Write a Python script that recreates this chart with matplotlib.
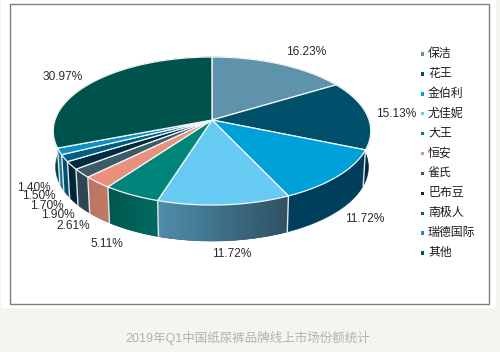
import numpy as np
import matplotlib
matplotlib.use('Agg')
import matplotlib.pyplot as plt
from matplotlib.patches import FancyBboxPatch, Polygon, Rectangle
from matplotlib.colors import LinearSegmentedColormap

plt.rcParams['font.family'] = ['Liberation Sans', 'Noto Sans CJK SC']

# data
brands = ['保洁', '花王', '金伯利', '尤佳妮', '大王', '恒安', '雀氏', '巴布豆', '南极人', '瑞德国际', '其他']
shares = [16.23, 15.13, 11.72, 11.72, 5.11, 2.61, 1.90, 1.70, 1.50, 1.40, 30.97]
caption = '2019年Q1中国纸尿裤品牌线上市场份额统计'

# styles
top_colors = ['#5f92ab', '#004f6b', '#00a1da', '#67caf3', '#00857a', '#e9917c',
              '#3d5a68', '#002c3f', '#005e80', '#0f8fc4', '#00534d']
# colour of each side wall at its right and left end
side_right = ['#4a7488', '#002a3a', '#003f5c', '#2f5163', '#006a5f', '#c07a66',
              '#2e4553', '#00263a', '#005070', '#1076a5', '#004a44']
side_left = ['#4a7488', '#002a3a', '#003f5c', '#4f8dab', '#00574f', '#bb7562',
             '#2e4553', '#00263a', '#005070', '#1076a5', '#004a44']
label_pos = [(306, 52), (396, 114), (365, 219), (232, 254), (107, 244), (73.5, 226),
             (57.5, 215), (46.5, 206), (38.5, 196), (33.5, 188), (63, 77)]

# pie geometry in pixels, the tilted disc is a perspective view of a circle
cx, cy = 212, 120
rx, ry = 157, 72.4
persp = 0.1486
depth = 36
bottom_shrink = 0.985


def rim(frac, bottom=False):
    ang = 2 * np.pi * np.asarray(frac) / 100
    x, y = np.sin(ang), -np.cos(ang)
    den = 1 - persp * y
    if bottom:
        return cx + bottom_shrink * rx * x / den, cy + depth + ry * y / den
    return cx + rx * x / den, cy + ry * y / den


fig = plt.figure(figsize=(5, 3.52), dpi=100, facecolor='#f4f5ee')
ax = fig.add_axes([0, 0, 1, 1])

ax.add_patch(FancyBboxPatch((4, -10), 489, 315, boxstyle='round,pad=3,rounding_size=3',
                            fc='white', ec='none', zorder=0))
ax.add_patch(Rectangle((9.5, 3.5), 479, 300, fc='none', ec='#808080', lw=1.0, zorder=1))

edges = np.concatenate([[0], np.cumsum(shares)])
grad = np.linspace(0, 1, 64).reshape(1, -1)

# side wall
for i in range(len(shares)):
    tt = np.linspace(edges[i], edges[i + 1], 60)
    xt, yt = rim(tt)
    xb, yb = rim(tt, True)
    pts = np.column_stack([np.r_[xt, xb[::-1]], np.r_[yt, yb[::-1]]])
    poly = Polygon(pts, fc=side_right[i], ec=side_right[i], lw=0.4, zorder=2)
    ax.add_patch(poly)
    if side_left[i] != side_right[i]:
        cmap = LinearSegmentedColormap.from_list('side', [side_left[i], side_right[i]])
        im = ax.imshow(grad, cmap=cmap, aspect='auto', zorder=2.1, interpolation='bilinear',
                       extent=(pts[:, 0].min(), pts[:, 0].max(), pts[:, 1].max(), pts[:, 1].min()))
        im.set_clip_path(poly)

for e in edges[:-1]:
    xt, yt = rim(e)
    xb, yb = rim(e, True)
    if 25 < e < 75:
        ax.plot([xt, xb], [yt, yb], color='#e4e8ea', lw=1.0, zorder=3)

# top face
for i in range(len(shares)):
    tt = np.linspace(edges[i], edges[i + 1], 80)
    xt, yt = rim(tt)
    pts = np.column_stack([np.r_[cx, xt], np.r_[cy, yt]])
    ax.add_patch(Polygon(pts, fc=top_colors[i], ec='#f4f7f8', lw=0.9, joinstyle='round', zorder=4))

# percent labels
for val, (lx, ly) in zip(shares, label_pos):
    ax.text(lx, ly, f'{val:.2f}%', fontsize=8.6, color='#2b2b2b', ha='center', va='center', zorder=6)

# legend
leg_y = np.linspace(54, 253, len(brands))
for name, col, ly in zip(brands, top_colors, leg_y):
    ax.add_patch(Rectangle((420.5, ly - 1.7), 3.4, 3.4, fc=col, ec='none', zorder=6))
    ax.text(428, ly, name, fontsize=8.6, color='#1c1c1c', ha='left', va='center', zorder=6)

ax.text(248, 337.5, caption, fontsize=9.0, color='#b2b2ae', ha='center', va='center')

ax.set_xlim(0, 500)
ax.set_ylim(352, 0)
ax.axis('off')

fig.savefig('out.png', dpi=100, facecolor=fig.get_facecolor())
